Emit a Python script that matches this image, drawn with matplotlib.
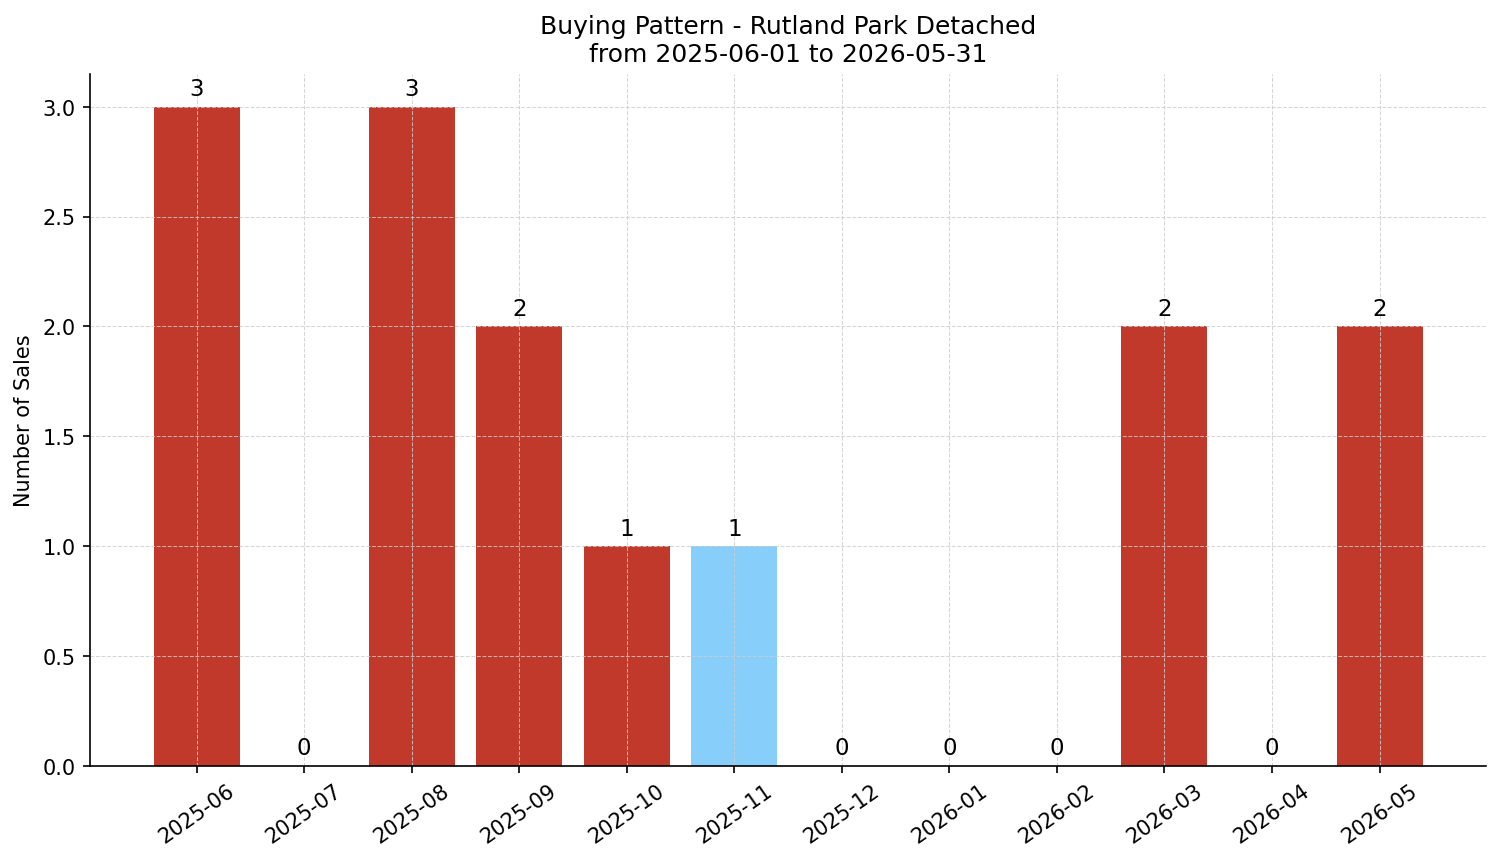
import matplotlib
matplotlib.use("Agg")
import matplotlib.pyplot as plt

months = ["2025-06", "2025-07", "2025-08", "2025-09", "2025-10", "2025-11",
          "2025-12", "2026-01", "2026-02", "2026-03", "2026-04", "2026-05"]
sales = [3, 0, 3, 2, 1, 1, 0, 0, 0, 2, 0, 2]
highlight = "2025-11"

RED = "#c0392b"
BLUE = "#87cefa"

fig, ax = plt.subplots(figsize=(10.007, 5.753), dpi=150)
fig.subplots_adjust(left=0.06, right=0.99, top=0.9135, bottom=0.1115)

colors = [BLUE if m == highlight else RED for m in months]
bars = ax.bar(range(len(months)), sales, width=0.8, color=colors)
ax.bar_label(bars, padding=3, fontsize=11)

ax.set_xticks(range(len(months)))
ax.set_xticklabels(months, rotation=35, fontsize=10)
ax.tick_params(axis="y", labelsize=10)
ax.set_ylabel("Number of Sales", fontsize=10)
ax.set_title("Buying Pattern - Rutland Park Detached\nfrom 2025-06-01 to 2026-05-31", fontsize=12)

ax.grid(True, linestyle="--", linewidth=0.5, color="#cccccc", alpha=0.8)
ax.spines["top"].set_visible(False)
ax.spines["right"].set_visible(False)

fig.savefig("out.png", dpi=150)
